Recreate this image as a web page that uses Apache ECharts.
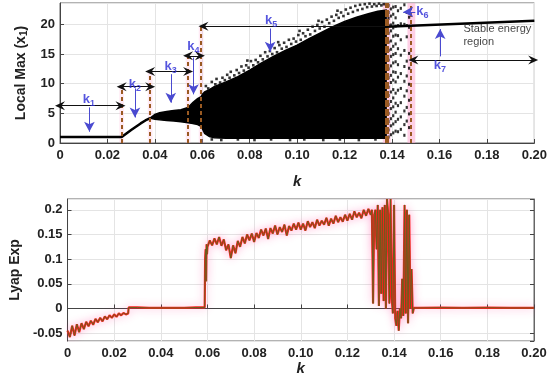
<!DOCTYPE html>
<html><head><meta charset="utf-8">
<script src="https://cdn.jsdelivr.net/npm/echarts@6/dist/echarts.min.js"></script>
<style>html,body{margin:0;padding:0;background:#fff}#c{width:550px;height:380px}</style>
</head><body><div id="c"></div>
<script>
// ---------- top panel: bifurcation diagram ----------
// period-1 branch and its rise
const p1K = [0, 0.026, 0.028, 0.030, 0.032, 0.034, 0.036, 0.038];
const p1Y = [1.0, 1.0, 1.6, 2.2, 2.75, 3.3, 3.8, 4.2];
// dense region envelope
const bandK    = [0.038,0.040,0.042,0.045,0.048,0.051,0.054,0.056,0.058,0.0595,0.0600,0.061,0.063,0.065,0.070,0.075,0.080,0.085,0.090,0.095,0.100,0.105,0.110,0.115,0.120,0.125,0.130,0.134,0.1375];
const bandLow  = [4.2,4.0,3.9,3.8,3.7,3.6,3.4,3.3,3.1,2.8,2.4,1.6,1.1,0.9,0.8,0.8,0.8,0.8,0.8,0.8,0.8,0.8,0.8,0.8,0.8,0.8,0.8,0.8,0.8];
const bandHigh = [4.2,4.8,5.1,5.3,5.5,5.6,6.0,6.8,7.5,7.8,8.2,8.6,9.0,9.5,10.3,11.2,12.3,13.5,14.6,15.6,16.5,17.6,18.6,19.6,20.5,21.2,21.8,22.2,22.4];
// scattered maxima at the edge of the dense region
const edgeK = [0.0615,0.0625,0.064,0.0655,0.066,0.0675,0.0685,0.0695,0.0705,0.0715,0.072,0.0735,0.0745,0.0755,0.0765,0.0775,0.0785,0.0795,
  0.0805,0.0815,0.0825,0.0835,0.0845,0.0855,0.0865,0.0875,0.0885,0.0895,0.0905,0.0915,0.0925,0.0935,0.0945,0.0955,0.0965,0.0975,0.0985,0.0995,
  0.1005,0.1015,0.1025,0.1035,0.1045,0.1055,0.1065,0.1075,0.1085,0.1095,0.1105,0.1115,0.1125,0.1135,0.1145,0.1155,0.1165,0.1175,0.1185,0.1195,
  0.1205,0.1215,0.1225,0.1235,0.1245,0.1255,0.1265,0.1275,0.1285,0.1295,0.1305,0.1315,0.1325,0.1335,0.1345,0.1355,0.1365,
  0.079,0.092,0.101,0.109,0.117,
  0.064,0.068,0.075,0.082,0.089,0.097,0.103,0.111,0.118,0.126,0.133];
const edgeY = [9.6,9.2,10.3,9.9,10.8,10.2,11.0,10.6,11.5,11.0,12.0,11.4,12.3,11.8,12.9,12.2,13.1,12.7,
  13.8,13.1,14.0,13.6,14.7,14.1,15.3,14.6,15.5,15.0,16.0,15.3,16.5,15.9,16.9,16.2,17.4,16.7,17.6,17.1,
  18.2,17.4,18.5,18.0,19.1,18.3,19.6,18.9,19.9,19.3,20.4,19.6,20.8,20.2,21.3,20.6,21.6,21.1,22.0,21.4,
  22.5,21.8,22.8,22.1,23.1,22.4,23.3,22.6,23.4,22.9,23.5,23.0,23.4,23.1,23.5,23.2,23.4,
  13.9,17.0,18.9,20.6,22.3,
  0.6,0.5,0.6,0.5,0.6,0.5,0.6,0.5,0.6,0.5,0.6];
// sparse columns of maxima between the two last boundaries
const sparseK = [0.1385,0.1395,0.1405,0.1415,0.1425,0.1437,0.1452,0.1462,0.1472];
const sparseY = [
  [23.2,22,21,19.8,18.5,17,15.6,14,12.5,11,9.4,8,6.5,5,3.6,2.2,1.0],
  [22.6,21.4,19.9,18.9,17.2,15.8,14.6,13.0,11.4,10.2,8.6,7.0,5.8,4.1,2.9,1.4],
  [22.9,21.7,20.2,19.4,18.0,16.3,14.9,13.5,12.0,10.6,9.0,7.6,6.1,4.6,3.2,1.7],
  [23.0,21.1,19.7,18.2,16.7,15.1,13.7,11.9,10.3,8.4,6.7,5.2,3.6,2.0],
  [22.3,19.8,18.1,15.9,13.2,11.1,8.9,6.3,4.0,1.9],
  [22.7,20.1,17.4,14.8,11.7,9.2,6.8,4.4,2.3],
  [23.3,20.0,15.6,12.9,10.4,7.9,5.4,3.1,1.3],
  [22.0,19.8,17.9,13.8,11.3,8.8,6.0,3.7],
  [21.2,19.5,15.1,12.6,9.9,7.2,4.9,2.6]
];
// stable high-energy branch
const stableK = [0.1375, 0.20];
const stableY = [19.6, 20.6];
// region boundaries (dashed lines)
const boundK   = [0.026, 0.038, 0.054, 0.0595, 0.1376, 0.148];
const boundTop = [9.5, 12.0, 14.7, 19.6, 23.6, 23.6];
// horizontal range arrows
const rangeFrom = [0, 0.026, 0.038, 0.054, 0.0605, 0.1490];
const rangeTo   = [0.0255, 0.038, 0.054, 0.059, 0.137, 0.1995];
const rangeY    = [6.3, 9.5, 12.05, 14.7, 19.7, 14.0];
const rangeBoth = [true, true, true, true, false, true];
// blue pointer arrows
const ptrFromK = [0.0124, 0.0316, 0.0467, 0.0563, 0.0886, 0.1498, 0.1603];
const ptrFromY = [6.0, 9.2, 11.6, 14.4, 19.3, 22.1, 14.6];
const ptrToK   = [0.0124, 0.0316, 0.0467, 0.0563, 0.0886, 0.1447, 0.1603];
const ptrToY   = [1.9, 4.3, 6.8, 8.2, 15.4, 22.1, 19.2];
// region labels
const labelNames = ['1','2','3','4','5','6','7'];
const labelK = [0.0122, 0.0316, 0.0466, 0.0562, 0.0890, 0.1528, 0.1602];
const labelY = [7.4, 9.9, 12.9, 16.2, 20.7, 22.2, 13.0];

// ---------- bottom panel: Lyapunov exponent ----------
const lyapK = [
 0,0.001,0.002,0.003,0.004,0.005,0.006,0.007,0.008,0.009,0.010,0.011,0.012,0.013,0.014,0.015,0.016,0.017,0.018,0.019,0.020,0.021,0.022,0.023,0.024,0.025,0.026,
 0.0262,0.030,0.035,0.040,0.045,0.050,0.055,0.0588,
 0.0590,0.0592,0.0594,0.0596,0.0598,
 0.060,0.061,0.062,0.063,0.064,0.065,0.066,0.067,0.068,0.069,0.070,0.071,0.072,0.073,0.074,0.075,0.076,0.077,0.078,0.079,
 0.080,0.081,0.082,0.083,0.084,0.085,0.086,0.087,0.088,0.089,0.090,0.091,0.092,0.093,0.094,0.095,0.096,0.097,0.098,0.099,
 0.100,0.101,0.102,0.103,0.104,0.105,0.106,0.107,0.108,0.109,0.110,0.111,0.112,0.113,0.114,0.115,0.116,0.117,0.118,0.119,
 0.120,0.121,0.122,0.123,0.124,0.125,0.126,0.127,0.128,0.129,0.130,
 0.1305,0.1310,0.1315,0.1320,0.1325,0.1330,0.1335,0.1340,0.1345,0.1350,0.1355,0.1360,0.1365,0.1370,0.1375,0.1380,0.1385,0.1390,0.1395,
 0.1400,0.1405,0.1410,0.1415,0.1420,0.1425,0.1430,0.1435,0.1440,0.1445,0.1450,0.1455,0.1460,0.1465,0.1470,0.1475,0.1480,0.1485,
 0.150,0.160,0.169,0.1695,0.170,0.180,0.190,0.200];
const lyapV = [
 -0.045,-0.058,-0.035,-0.055,-0.032,-0.048,-0.030,-0.042,-0.027,-0.036,-0.025,-0.033,-0.021,-0.028,-0.019,-0.026,-0.016,-0.022,-0.014,-0.019,-0.012,-0.017,-0.010,-0.014,-0.009,-0.012,-0.010,
 0.002,0.002,0.001,0.001,0.001,0.001,0.002,0.002,
 0.10,0.12,0.055,0.13,0.11,
 0.125,0.138,0.128,0.142,0.130,0.145,0.127,0.140,0.118,0.130,0.102,0.128,0.112,0.137,0.125,0.145,0.132,0.150,0.138,0.152,
 0.135,0.153,0.143,0.160,0.148,0.162,0.141,0.163,0.152,0.168,0.150,0.165,0.155,0.170,0.148,0.167,0.158,0.172,0.160,0.174,
 0.160,0.172,0.158,0.177,0.165,0.175,0.163,0.180,0.168,0.178,0.170,0.184,0.168,0.182,0.172,0.188,0.175,0.185,0.176,0.190,
 0.178,0.192,0.180,0.197,0.185,0.194,0.183,0.200,0.188,0.202,0.190,
 0.200,0.010,0.190,0.200,0.120,0.210,0.005,0.200,0.030,0.205,0.015,0.210,0.000,0.222,0.190,0.010,0.222,0.020,-0.010,
 0.210,-0.020,-0.035,-0.005,-0.045,0.000,-0.020,0.060,-0.015,0.210,-0.010,0.200,-0.030,0.190,0.000,0.080,-0.010,0.001,
 0.001,0.0015,0.001,0.003,0.001,0.0015,0.001,0.001];

const FONT = 'Liberation Sans, Arial, sans-serif';
const zip = (a, b) => a.map((v, i) => [v, b[i]]);

const chevron = 'path://M5,0L10,10L5,6.5L0,10Z';
const BROWN = '#9a5a22';

function axisX(grid, gap) {
  return {
    type: 'value', gridIndex: grid, min: 0, max: 0.2, interval: 0.02,
    name: 'k', nameLocation: 'middle', nameGap: gap,
    nameTextStyle: {fontFamily: FONT, fontStyle: 'italic', fontWeight: 'bold', fontSize: 15, color: '#222'},
    axisLine: {lineStyle: {color: '#444'}},
    axisTick: {inside: true, length: 4, lineStyle: {color: '#444'}},
    axisLabel: {fontFamily: FONT, fontWeight: 'bold', fontSize: 13, color: '#222', margin: 6,
      formatter: v => (v === 0 ? '0' : v.toFixed(2))},
    splitLine: {show: true, lineStyle: {color: '#e4e4e4'}}
  };
}

const rangeLines = rangeFrom.map((f, i) => [
  {coord: [f, rangeY[i]], symbol: chevron, symbolSize: [9, 10], lineStyle: {color: '#111', width: 1, type: 'solid'}},
  {coord: [rangeTo[i], rangeY[i]], symbol: rangeBoth[i] ? chevron : 'none', symbolSize: [9, 10]}
]);

const ptrLines = ptrFromK.map((k, i) => [
  {coord: [k, ptrFromY[i]], symbol: 'none', lineStyle: {color: '#4a4ad0', width: 1, type: 'solid'}},
  {coord: [ptrToK[i], ptrToY[i]], symbol: 'arrow', symbolSize: [8, 10]}
]);

const boundLines = boundK.map((k, i) => [
  {coord: [k, 0], symbol: 'none',
   lineStyle: {color: BROWN, width: i === 4 ? 4 : 2, type: i === 4 ? [7, 2] : [4, 3]}},
  {coord: [k, boundTop[i]], symbol: 'none'}
]);

const pinkAreas = boundK.map((k, i) => [
  {coord: [k - (i >= 4 ? 0.0015 : 0.001), 0], itemStyle: {color: 'rgba(255,170,210,' + (i >= 4 ? 0.55 : 0.25) + ')'}},
  {coord: [k + (i >= 4 ? 0.0018 : 0.001), boundTop[i]]}
]);

const sparseData = [];
sparseK.forEach((k, i) => sparseY[i].forEach(y => sparseData.push([k, y])));

// polygon between the lower and upper envelope, placed through the axes
function renderBand(params, api) {
  if (params.dataIndex !== 0) return null;
  const pts = [];
  for (let i = 0; i < bandK.length; i++) pts.push(api.coord([bandK[i], bandHigh[i]]));
  for (let i = bandK.length - 1; i >= 0; i--) pts.push(api.coord([bandK[i], bandLow[i]]));
  return {type: 'polygon', shape: {points: pts}, style: {fill: '#000', stroke: '#000', lineWidth: 1.5}};
}

const yAxisCommon = {
  axisLine: {show: true, lineStyle: {color: '#444'}},
  axisTick: {show: true, inside: true, length: 4, lineStyle: {color: '#444'}},
  splitLine: {show: true, lineStyle: {color: '#e4e4e4'}}
};

const option = {
  animation: false,
  backgroundColor: '#fff',
  textStyle: {fontFamily: FONT},
  grid: [
    {left: 60, right: 15, top: 3, height: 140, show: true, borderColor: '#666', borderWidth: 1},
    {left: 60, right: 16, top: 199, height: 142, show: true, borderColor: '#666', borderWidth: 1}
  ],
  xAxis: [axisX(0, 31), axisX(1, 19)],
  yAxis: [
    Object.assign({}, yAxisCommon, {type: 'value', gridIndex: 0, min: 0, max: 23.6, splitNumber: 5,
     name: '{a|Local Max (x}{s|1}{a|)}', nameLocation: 'middle', nameGap: 29, nameRotate: 90,
     nameTextStyle: {rich: {a: {fontFamily: FONT, fontWeight: 'bold', fontSize: 14, color: '#222'},
                            s: {fontFamily: FONT, fontWeight: 'bold', fontSize: 10, color: '#222', padding: [7, 0, 0, 0]}}},
     axisLabel: {fontFamily: FONT, fontWeight: 'bold', fontSize: 13, color: '#222', margin: 5, showMaxLabel: false}}),
    Object.assign({}, yAxisCommon, {type: 'value', gridIndex: 1, min: -0.066, max: 0.222, splitNumber: 5,
     name: 'Lyap Exp', nameLocation: 'middle', nameGap: 40,
     nameTextStyle: {fontFamily: FONT, fontWeight: 'bold', fontSize: 14, color: '#222'},
     axisLabel: {fontFamily: FONT, fontWeight: 'bold', fontSize: 13, color: '#222', margin: 5,
                 showMaxLabel: false, showMinLabel: false}}),
    {type: 'value', gridIndex: 1, position: 'right', min: -0.066, max: 0.222, splitNumber: 5,
     axisLine: {show: true, lineStyle: {color: '#666'}},
     axisTick: {show: true, inside: true, length: 4, lineStyle: {color: '#444'}},
     axisLabel: {show: false}, splitLine: {show: false}}
  ],
  series: [
    {type: 'line', xAxisIndex: 0, yAxisIndex: 0, data: [], z: 1, silent: true,
     markArea: {silent: true, data: pinkAreas}},
    {type: 'line', xAxisIndex: 0, yAxisIndex: 0, data: zip(p1K, p1Y), symbol: 'none',
     lineStyle: {color: '#000', width: 2.5}, z: 3},
    {type: 'custom', xAxisIndex: 0, yAxisIndex: 0, data: [[bandK[0], bandLow[0]]], renderItem: renderBand,
     clip: true, silent: true, z: 2},
    {type: 'scatter', xAxisIndex: 0, yAxisIndex: 0, data: zip(edgeK, edgeY), symbol: 'rect', symbolSize: 2.6,
     itemStyle: {color: '#000'}, z: 2},
    {type: 'scatter', xAxisIndex: 0, yAxisIndex: 0, data: sparseData, symbol: 'rect', symbolSize: [2.2, 3],
     itemStyle: {color: '#000'}, z: 2},
    {type: 'line', xAxisIndex: 0, yAxisIndex: 0, data: zip(stableK, stableY), symbol: 'none',
     lineStyle: {color: '#000', width: 2.5}, z: 3},
    {type: 'line', xAxisIndex: 0, yAxisIndex: 0, data: [], z: 5, silent: true,
     markLine: {silent: true, animation: false, label: {show: false}, symbol: 'none',
       itemStyle: {color: '#111'},
       data: boundLines}},
    {type: 'line', xAxisIndex: 0, yAxisIndex: 0, data: [], z: 6, silent: true,
     markLine: {silent: true, animation: false, label: {show: false},
       itemStyle: {color: '#111'}, lineStyle: {color: '#111', width: 1, type: 'solid'},
       data: rangeLines}},
    {type: 'line', xAxisIndex: 0, yAxisIndex: 0, data: [], z: 6, silent: true,
     markLine: {silent: true, animation: false, label: {show: false},
       itemStyle: {color: '#2525dd'}, lineStyle: {color: '#4a4ad0', width: 1, type: 'solid'},
       data: ptrLines}},
    {type: 'scatter', xAxisIndex: 0, yAxisIndex: 0, z: 7, silent: true,
     data: labelK.map((k, i) => ({value: [k, labelY[i]], name: labelNames[i]})),
     symbolSize: 1, itemStyle: {color: 'rgba(0,0,0,0)'},
     label: {show: true, position: 'inside', formatter: p => '{k|k}{s|' + p.name + '}',
       rich: {k: {fontFamily: FONT, fontWeight: 'bold', fontSize: 13, color: '#2a2ad6'},
              s: {fontFamily: FONT, fontWeight: 'bold', fontSize: 9, color: '#2a2ad6', padding: [8, 0, 0, 0]}}}},
    {type: 'scatter', xAxisIndex: 0, yAxisIndex: 0, z: 7, silent: true,
     data: [{value: [0.1699, 18.15], name: 'Stable energy\nregion'}],
     symbolSize: 1, itemStyle: {color: 'rgba(0,0,0,0)'},
     label: {show: true, position: 'right', distance: 0, formatter: p => p.name,
       fontFamily: FONT, fontSize: 11, lineHeight: 12.5, color: '#111'}},
    {type: 'line', xAxisIndex: 1, yAxisIndex: 1, data: zip(lyapK, lyapV), symbol: 'none',
     lineStyle: {color: '#ff1f1f', width: 2.2, shadowBlur: 8, shadowColor: 'rgba(255,60,150,0.45)'}, z: 3},
    {type: 'line', xAxisIndex: 1, yAxisIndex: 1, data: zip(lyapK, lyapV), symbol: 'none',
     lineStyle: {color: '#6e5c1c', width: 1}, z: 4}
  ]
};

const chart = echarts.init(document.getElementById('c'), null, {renderer: 'canvas'});
chart.setOption(option);
</script></body></html>
